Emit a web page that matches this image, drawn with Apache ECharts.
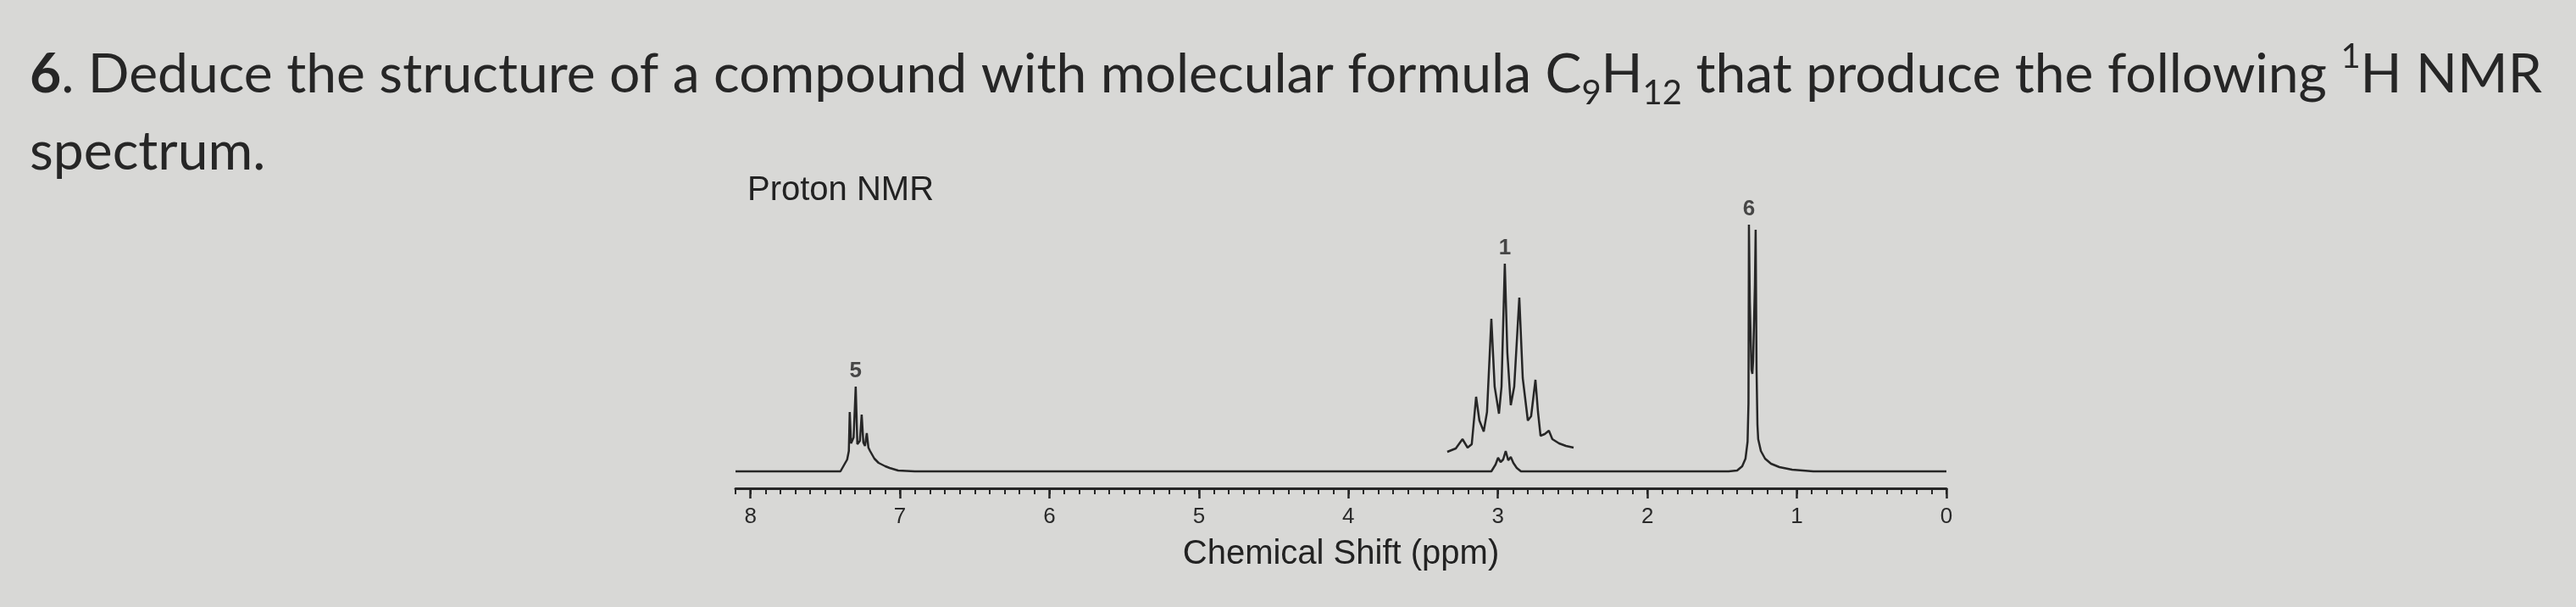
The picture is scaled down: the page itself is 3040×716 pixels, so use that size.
<!DOCTYPE html>
<html><head><meta charset="utf-8">
<script src="https://cdn.jsdelivr.net/npm/echarts@6/dist/echarts.min.js"></script>
<style>html,body{margin:0;padding:0;background:#d8d8d6;}#c{width:3040px;height:716px;}</style>
</head><body><div id="c"></div>
<script>
// ---------- text ----------
const questionLine1 = [['b','6'],['n','. Deduce the structure of a compound with molecular formula C'],['sub','9'],['n','H'],['sub','12'],['n',' that produce the following '],['sup','1'],['n','H NMR']];
const questionLine2 = 'spectrum.';
const chartTitle = 'Proton NMR';
const axisTitle = 'Chemical Shift (ppm)';
const tickValues = [0,1,2,3,4,5,6,7,8];

// ---------- peak integration labels ----------
const peakLabelText = ['5','1','6'];
const peakLabelPpm = [7.296, 2.954, 1.321];
const peakLabelHeight = [100, 245, 291];

// ---------- main trace (ppm, intensity) ----------
const spectrumPpm = [8.10, 7.45, 7.398, 7.353, 7.342, 7.336, 7.327, 7.310, 7.296, 7.285, 7.268, 7.256, 7.245, 7.234, 7.222, 7.211, 7.200, 7.171, 7.143, 7.098, 7.069, 7.012, 6.90,
  3.044, 3.016, 2.999, 2.982, 2.965, 2.948, 2.931, 2.914, 2.897, 2.874, 2.846,
  1.457, 1.400, 1.366, 1.344, 1.330, 1.324, 1.321, 1.315, 1.304, 1.298, 1.293, 1.281, 1.276, 1.270, 1.264, 1.259, 1.241, 1.213, 1.173, 1.117, 1.032, 0.890, 0.0];
const spectrumIntensity = [0, 0, 0, 14, 24, 70, 33, 40, 100, 32, 36, 67, 34, 30, 45, 28, 24, 15, 10, 6, 4, 1, 0,
  0, 8, 16, 11, 14, 24, 13, 17, 10, 4, 0,
  0, 1, 6, 15, 35, 80, 291, 200, 120, 115, 130, 220, 285, 120, 55, 38, 24, 15, 9, 5, 2, 0, 0];

// ---------- expanded inset of the 2.95 ppm multiplet ----------
const insetPpm = [3.339, 3.282, 3.237, 3.203, 3.175, 3.146, 3.124, 3.095, 3.073, 3.044, 3.022, 2.993, 2.976, 2.954, 2.937, 2.914, 2.891, 2.857, 2.834, 2.800, 2.778, 2.749, 2.732, 2.715, 2.687, 2.659, 2.636, 2.591, 2.545, 2.494];
const insetIntensity = [23, 27, 38, 28, 32, 88, 60, 47, 70, 180, 100, 68, 100, 245, 140, 78, 100, 205, 110, 60, 65, 108, 70, 42, 44, 48, 38, 33, 30, 28];

// ---------- build ----------
const zip = (a, b) => a.map((v, i) => [v, b[i]]);
const INK = '#262626';

// fit question font so that line 1 spans the same width as the reference
const ctx = document.createElement('canvas').getContext('2d');
const SUB = 0.62;
function tw(t, size, weight) { ctx.font = (weight || 'normal') + ' ' + size + 'px Lato'; return ctx.measureText(t).width; }
let tot = 0;
questionLine1.forEach(([k, t]) => { tot += tw(t, (k === 'sub' || k === 'sup') ? 100 * SUB : 100, k === 'b' ? 'bold' : 'normal'); });
const F = Math.round(100 * 2966 / tot * 10) / 10;
const L = Math.round(F * 1.3);
const fs = Math.round(F * SUB);
const base = { fontFamily: 'Lato', fontSize: F, lineHeight: L, color: INK, fontWeight: 'normal' };
const rich = {
  n: base,
  b: Object.assign({}, base, { fontWeight: 'bold' }),
  sub: { fontFamily: 'Lato', fontSize: fs, fontWeight: 'normal', color: INK, lineHeight: Math.round(L - 0.55 * F), verticalAlign: 'bottom' },
  sup: { fontFamily: 'Lato', fontSize: fs, fontWeight: 'normal', color: INK, lineHeight: Math.round(L - 0.4 * F), verticalAlign: 'top' }
};
const line1Text = questionLine1.map(([k, t]) => '{' + k + '|' + t + '}').join('');
const top1 = Math.round(113 - L / 2 - 0.387 * F);
const top2 = Math.round(204 - L / 2 - 0.387 * F);

const chart = echarts.init(document.getElementById('c'));
chart.setOption({
  backgroundColor: '#d8d8d6',
  animation: false,
  title: [
    { text: line1Text, left: 35, top: top1, padding: 0, textStyle: { fontWeight: 'normal', fontFamily: 'Lato', fontSize: F, color: INK, rich: rich } },
    { text: questionLine2, left: 35, top: top2, padding: 0, textStyle: base },
    { text: chartTitle, left: 882, top: 201, padding: 0, textStyle: { fontFamily: 'Liberation Sans', fontSize: 40, lineHeight: 48, fontWeight: 'normal', color: '#222' } }
  ],
  grid: { left: 868, right: 743, top: 226, bottom: 140, containLabel: false },
  xAxis: [
    { type: 'value', min: 0, max: 8.1, interval: 0.1, inverse: true, position: 'bottom',
      axisLine: { show: true, onZero: false, lineStyle: { color: INK, width: 3 } },
      axisTick: { show: true, length: 7, lineStyle: { color: INK, width: 2 } },
      axisLabel: { show: false }, splitLine: { show: false } },
    { type: 'value', min: 0, max: 8.1, interval: 1, inverse: true, position: 'bottom',
      axisLine: { show: false, onZero: false },
      axisTick: { show: true, length: 12, customValues: tickValues, lineStyle: { color: INK, width: 2.5 } },
      axisLabel: { show: true, customValues: tickValues, margin: 21, fontSize: 26, fontFamily: 'Liberation Sans', color: '#2a2a2a',
        formatter: v => (Number.isInteger(v) ? String(v) : '') },
      splitLine: { show: false },
      name: axisTitle, nameLocation: 'middle', nameGap: 58,
      nameTextStyle: { fontSize: 40, fontFamily: 'Liberation Sans', color: '#222' } }
  ],
  yAxis: { type: 'value', min: -20, max: 330, show: false, splitLine: { show: false } },
  series: [
    { type: 'line', xAxisIndex: 0, data: zip(spectrumPpm, spectrumIntensity), showSymbol: false, symbol: 'none',
      lineStyle: { color: INK, width: 2.5 }, clip: false },
    { type: 'line', xAxisIndex: 0, data: zip(insetPpm, insetIntensity), showSymbol: false, symbol: 'none',
      lineStyle: { color: INK, width: 2.5 }, clip: false },
    { type: 'scatter', xAxisIndex: 0, data: zip(peakLabelPpm, peakLabelHeight), symbolSize: 1,
      itemStyle: { color: 'rgba(0,0,0,0)' },
      label: { show: true, position: 'top', distance: 5, fontSize: 26, fontWeight: 'bold', fontFamily: 'Liberation Sans', color: '#222',
        formatter: p => peakLabelText[p.dataIndex] } }
  ]
});
</script></body></html>
